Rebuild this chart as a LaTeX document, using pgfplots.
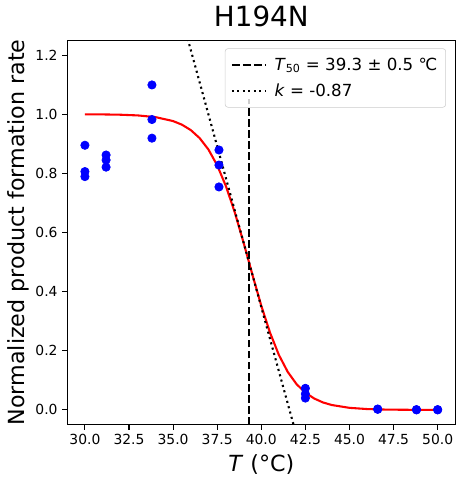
\documentclass[border=0pt]{standalone}
\usepackage{fontspec}
\setmainfont{DejaVu Sans}
\usepackage{pgfplots}
\pgfplotsset{compat=1.18}
\begin{document}
\begin{tikzpicture}
\useasboundingbox (-48.45pt,-44.86pt) rectangle (285.63pt,305.78pt);
\begin{axis}[
  scale only axis, width=279.36pt, height=276.77pt,
  xmin=29, xmax=51, ymin=-0.05, ymax=1.25,
  xtick={30,32.5,35,37.5,40,42.5,45,47.5,50},
  ytick={0,0.2,0.4,0.6,0.8,1.0,1.2},
  /pgf/number format/assume math mode=true,
  xticklabel style={/pgf/number format/.cd, fixed, fixed zerofill, precision=1},
  yticklabel style={/pgf/number format/.cd, fixed, fixed zerofill, precision=1},
  tick label style={font=\fontsize{10}{12}\selectfont},
  tick align=outside, tick pos=left,
  major tick length=3.5pt,
  every tick/.style={black, line width=0.8pt},
  axis line style={line width=0.8pt},
  title={H194N},
  title style={font=\fontsize{20}{24}\selectfont},
  xlabel={\textit{T} (°C)},
  ylabel={Normalized product formation rate},
  ylabel style={yshift=-2pt},
  label style={font=\fontsize{16}{19}\selectfont},
  legend cell align=left,
  legend image code/.code={\draw[#1] (0pt,0pt) -- (24pt,0pt);},
  legend style={at={(axis description cs:0.976,0.979)}, anchor=north east,
    font=\fontsize{12}{14.4}\selectfont, draw=black!20, rounded corners=2pt,
    fill=white, fill opacity=0.8, text opacity=1, draw opacity=1,
    inner xsep=4pt, inner ysep=4.5pt, row sep=4.2pt,
    /tikz/every odd column/.append style={column sep=4pt}},
]
\addplot[only marks, mark=*, mark size=3pt, mark options={draw=blue, fill=blue, line width=0.5pt}, forget plot] coordinates {
(30,0.895) (30,0.806) (30,0.789)
(31.2,0.862) (31.2,0.845) (31.2,0.821)
(33.8,1.099) (33.8,0.982) (33.8,0.919)
(37.6,0.879) (37.6,0.828) (37.6,0.754)
(42.5,0.073) (42.5,0.054) (42.5,0.040)
(46.6,0.003) (46.6,0.002)
(48.8,0.001) (48.8,0.000)
(50,0.001) (50,0.000)
};
\addplot[red, line width=1.5pt, forget plot] coordinates {
(30,0.9997) (31,0.9993) (32,0.9983) (33,0.9959) (34,0.9902) (35,0.9768)
(35.5,0.9646) (36,0.9464) (36.5,0.9195) (37,0.8809) (37.5,0.8272) (38,0.7560)
(38.5,0.6673) (39,0.5649) (39.3,0.5) (39.5,0.4566) (40,0.3523) (40.5,0.2604)
(41,0.1856) (41.5,0.1285) (42,0.0871) (42.5,0.0582) (43,0.0385) (43.5,0.0252)
(44,0.0165) (45,0.0070) (46,0.0029) (47,0.0012) (48,0.0005) (49,0.0002) (50,0.0001)
};
\addplot[black, line width=1.5pt, dash pattern=on 5.55pt off 2.4pt] coordinates {(39.3,-0.05) (39.3,1.05)};
\addlegendentry{\textit{T}\textsubscript{50} = 39.3 ± 0.5 ℃}
\addplot[black, line width=1.5pt, dash pattern=on 1.5pt off 2.475pt] coordinates {(35,1.435) (42.5,-0.196)};
\addlegendentry{\textit{k} = -0.87}
\end{axis}
\end{tikzpicture}
\end{document}
